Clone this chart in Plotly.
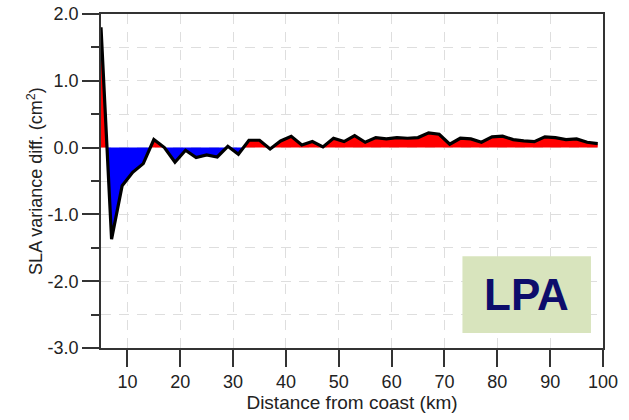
import plotly.graph_objects as go

# Data
distance_km = [5, 7, 9, 11, 13, 15, 17, 19, 21, 23, 25, 27, 29, 31, 33, 35, 37, 39,
               41, 43, 45, 47, 49, 51, 53, 55, 57, 59, 61, 63, 65, 67, 69, 71, 73,
               75, 77, 79, 81, 83, 85, 87, 89, 91, 93, 95, 97, 99]
sla_var_diff = [1.80, -1.37, -0.57, -0.37, -0.24, 0.12, 0.00, -0.22, -0.04, -0.15,
                -0.11, -0.14, 0.02, -0.10, 0.11, 0.11, -0.02, 0.10, 0.17, 0.04,
                0.09, 0.01, 0.14, 0.09, 0.18, 0.08, 0.15, 0.13, 0.15, 0.14, 0.15,
                0.22, 0.20, 0.05, 0.14, 0.13, 0.08, 0.16, 0.17, 0.12, 0.10, 0.09,
                0.16, 0.15, 0.12, 0.13, 0.08, 0.06]
x_ticks = [10, 20, 30, 40, 50, 60, 70, 80, 90, 100]
y_ticks = [-3.0, -2.0, -1.0, 0.0, 1.0, 2.0]

# Split into positive/negative fill polygons, inserting zero crossings
xa, ya = [distance_km[0]], [sla_var_diff[0]]
for i in range(1, len(distance_km)):
    x0, y0 = distance_km[i - 1], sla_var_diff[i - 1]
    x1, y1 = distance_km[i], sla_var_diff[i]
    if y0 * y1 < 0:
        xc = x0 + (x1 - x0) * (0 - y0) / (y1 - y0)
        xa.append(xc)
        ya.append(0.0)
    xa.append(x1)
    ya.append(y1)
y_pos = [max(v, 0.0) for v in ya]
y_neg = [min(v, 0.0) for v in ya]

fig = go.Figure()
fig.add_trace(go.Scatter(x=xa, y=y_pos, mode="lines", line=dict(width=0, color="red"),
                         fill="tozeroy", fillcolor="#ff0000", hoverinfo="skip",
                         showlegend=False))
fig.add_trace(go.Scatter(x=xa, y=y_neg, mode="lines", line=dict(width=0, color="blue"),
                         fill="tozeroy", fillcolor="#0000ff", hoverinfo="skip",
                         showlegend=False))
fig.add_trace(go.Scatter(x=distance_km, y=sla_var_diff, mode="lines",
                         line=dict(color="black", width=3.2), showlegend=False))

grid_col = "#dedede"
axis_col = "#333333"
font_fam = "Liberation Sans, Arial, sans-serif"

fig.update_layout(
    width=629, height=420,
    margin=dict(l=101, r=26, t=14, b=72, autoexpand=False),
    paper_bgcolor="white", plot_bgcolor="white",
    font=dict(family=font_fam, size=18, color="#222222"),
    xaxis=dict(
        range=[5, 100], tickvals=x_ticks, ticktext=[str(v) for v in x_ticks],
        ticks="outside", ticklen=17, tickwidth=1.5, tickcolor=axis_col,
        showline=True, linecolor=axis_col, linewidth=1.5, mirror=True,
        showgrid=True, gridcolor=grid_col, griddash="10px,8px", gridwidth=1,
        zeroline=False, automargin=False,
        title=dict(text="Distance from coast (km)", font=dict(size=19), standoff=4),
        tickfont=dict(size=18),
    ),
    yaxis=dict(
        range=[-3, 2], tickvals=y_ticks, ticktext=["%.1f" % v for v in y_ticks],
        ticks="outside", ticklen=17, tickwidth=1.5, tickcolor=axis_col,
        showline=True, linecolor=axis_col, linewidth=1.5, mirror=True,
        showgrid=True, gridcolor=grid_col, griddash="10px,8px", gridwidth=1,
        zeroline=False, automargin=False,
        minor=dict(dtick=0.5, tick0=0, ticks="outside", ticklen=8, tickwidth=1.5,
                   tickcolor=axis_col, showgrid=True, gridcolor=grid_col,
                   griddash="10px,8px", gridwidth=1),
        title=dict(text="SLA variance diff. (cm<sup>2</sup>)", font=dict(size=18), standoff=0),
        tickfont=dict(size=18),
    ),
)

# LPA label box
fig.add_shape(type="rect", xref="paper", yref="paper",
              x0=0.72, x1=0.976, y0=0.045, y1=0.275,
              fillcolor="#d8e4bd", line=dict(width=0), layer="above")
fig.add_annotation(xref="paper", yref="paper", x=0.848, y=0.16, text="<b>LPA</b>",
                   showarrow=False, font=dict(family="Liberation Sans, Arial, sans-serif",
                                              size=44, color="#0d0d6b"),
                   xanchor="center", yanchor="middle")

fig.write_html("out.html", config={"displayModeBar": False},
               post_script="document.body.style.margin='0';document.body.style.overflow='hidden';")
